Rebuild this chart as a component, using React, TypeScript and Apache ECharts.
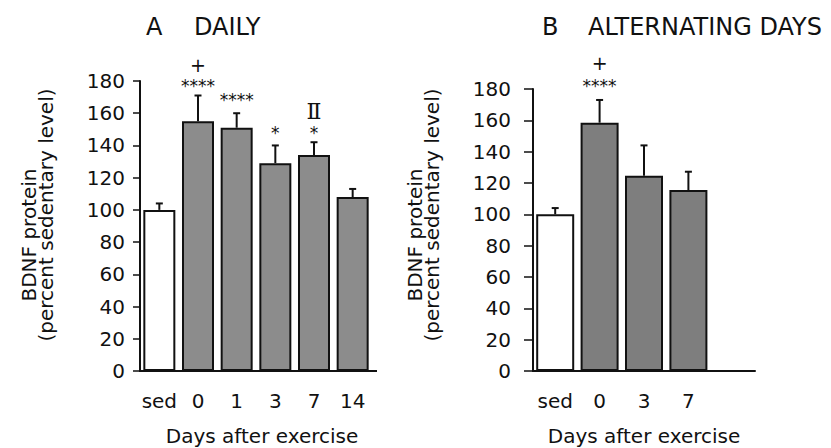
import React, { useEffect, useRef } from "react";
import * as echarts from "echarts";

// ---- data ----
const catsA = ["sed", "0", "1", "3", "7", "14"];
const meanA = [100, 155, 151, 129, 134, 108];
const semA = [4, 16, 9, 11, 8, 5];

const catsB = ["sed", "0", "3", "7", ""];
const meanB = [100, 158.5, 124.6, 115.5];
const semB = [4, 14.5, 19.4, 11.7];

const annCatA = [1, 1, 2, 3, 4, 4];
const annYA = [190, 176.6, 168.2, 148, 161.2, 148];
const annTextA = ["+", "****", "****", "*", "Ⅱ", "*"];

const annCatB = [1, 1];
const annYB = [196.5, 181.9];
const annTextB = ["+", "****"];

const yMin = 0;
const yMax = 180;
const yStep = 20;

const FONT = "DejaVu Sans";

function errorSeries(xi: number, mean: number[], sem: number[]) {
  return {
    type: "custom",
    xAxisIndex: xi,
    yAxisIndex: xi,
    z: 5,
    clip: false,
    encode: { x: 0, y: 1 },
    data: mean.map((m, i) => [i, m, sem[i]]),
    renderItem: (params: any, api: any) => {
      const x = api.value(0);
      const m = api.value(1);
      const e = api.value(2);
      const p0 = api.coord([x, m]);
      const p1 = api.coord([x, m + e]);
      return {
        type: "group",
        children: [
          { type: "line", shape: { x1: p0[0], y1: p0[1], x2: p1[0], y2: p1[1] }, style: { stroke: "#111", lineWidth: 2 } },
          { type: "line", shape: { x1: p1[0] - 3.5, y1: p1[1], x2: p1[0] + 3.5, y2: p1[1] }, style: { stroke: "#111", lineWidth: 2 } },
        ],
      };
    },
  };
}

function annSeries(xi: number, cats: number[], ys: number[], texts: string[]) {
  return {
    type: "custom",
    xAxisIndex: xi,
    yAxisIndex: xi,
    z: 6,
    clip: false,
    encode: { x: 0, y: 1 },
    data: cats.map((c, i) => [c, ys[i]]),
    renderItem: (params: any, api: any) => {
      const p = api.coord([api.value(0), api.value(1)]);
      const t = texts[params.dataIndex];
      let font = `17px "${FONT}"`;
      if (t === "+") font = `19px "${FONT}"`;
      if (t === "Ⅱ") font = `22px "DejaVu Serif"`;
      return {
        type: "text",
        x: p[0],
        y: p[1],
        style: { text: t, align: "center", verticalAlign: "middle", font, fill: "#111" },
      };
    },
  };
}

function barSeries(xi: number, mean: number[], width: number, gray: string) {
  return {
    type: "bar",
    xAxisIndex: xi,
    yAxisIndex: xi,
    barWidth: width,
    data: mean.map((v, i) => ({
      value: v,
      itemStyle: { color: i === 0 ? "#ffffff" : gray, borderColor: "#111", borderWidth: 2 },
    })),
  };
}

function xAxisDef(gi: number, cats: string[]) {
  return {
    type: "category",
    gridIndex: gi,
    data: cats,
    axisLine: { lineStyle: { color: "#111", width: 2 } },
    axisTick: { show: false },
    axisLabel: { color: "#111", fontFamily: FONT, fontSize: 20, margin: 20, interval: 0 },
    name: "Days after exercise",
    nameLocation: "middle",
    nameGap: 55,
    nameTextStyle: { color: "#111", fontFamily: FONT, fontSize: 20, padding: gi === 0 ? [0, 0, 0, 12] : 0 },
  };
}

function yAxisDef(gi: number, tick: number, margin: number) {
  return {
    type: "value",
    gridIndex: gi,
    min: yMin,
    max: yMax,
    interval: yStep,
    splitLine: { show: false },
    axisLine: { show: true, lineStyle: { color: "#111", width: 2 } },
    axisTick: { show: true, length: tick, lineStyle: { color: "#111", width: 1.5 } },
    axisLabel: { color: "#111", fontFamily: FONT, fontSize: 20, margin },
  };
}

function rotText(x: number, y: number, text: string) {
  return {
    type: "text",
    x,
    y,
    rotation: Math.PI / 2,
    style: { text, align: "center", verticalAlign: "middle", font: `20px "${FONT}"`, fill: "#111" },
  };
}

function plainText(x: number, y: number, text: string, align: string) {
  return {
    type: "text",
    x,
    y,
    style: { text, align, verticalAlign: "middle", font: `24px "${FONT}"`, fill: "#111" },
  };
}

export default function App() {
  const ref = useRef<HTMLDivElement>(null);
  useEffect(() => {
    if (!ref.current) return;
    const chart = echarts.init(ref.current, null, { renderer: "svg" });
    chart.setOption({
      animation: false,
      backgroundColor: "#ffffff",
      grid: [
        { left: 140, top: 81, width: 232, height: 290, outerBoundsMode: "none", containLabel: false },
        { left: 533, top: 89, width: 222, height: 282, outerBoundsMode: "none", containLabel: false },
      ],
      xAxis: [xAxisDef(0, catsA), xAxisDef(1, catsB)],
      yAxis: [yAxisDef(0, 7, 15), yAxisDef(1, 9, 22)],
      series: [
        barSeries(0, meanA, 32, "#8c8c8c"),
        errorSeries(0, meanA, semA),
        annSeries(0, annCatA, annYA, annTextA),
        barSeries(1, meanB, 38, "#7e7e7e"),
        errorSeries(1, meanB, semB),
        annSeries(1, annCatB, annYB, annTextB),
      ],
      graphic: [
        { type: "line", shape: { x1: 371, y1: 371, x2: 377, y2: 371 }, style: { stroke: "#111", lineWidth: 2 } },
        rotText(29, 235, "BDNF protein"),
        rotText(46, 215, "(percent sedentary level)"),
        rotText(415, 235, "BDNF protein"),
        rotText(432, 215, "(percent sedentary level)"),
        plainText(146, 27, "A", "left"),
        plainText(194, 27, "DAILY", "left"),
        plainText(542, 27, "B", "left"),
        plainText(588, 27, "ALTERNATING DAYS", "left"),
      ],
    });
    return () => chart.dispose();
  }, []);
  return <div ref={ref} style={{ position: "fixed", left: 0, top: 0, width: 831, height: 448 }} />;
}
